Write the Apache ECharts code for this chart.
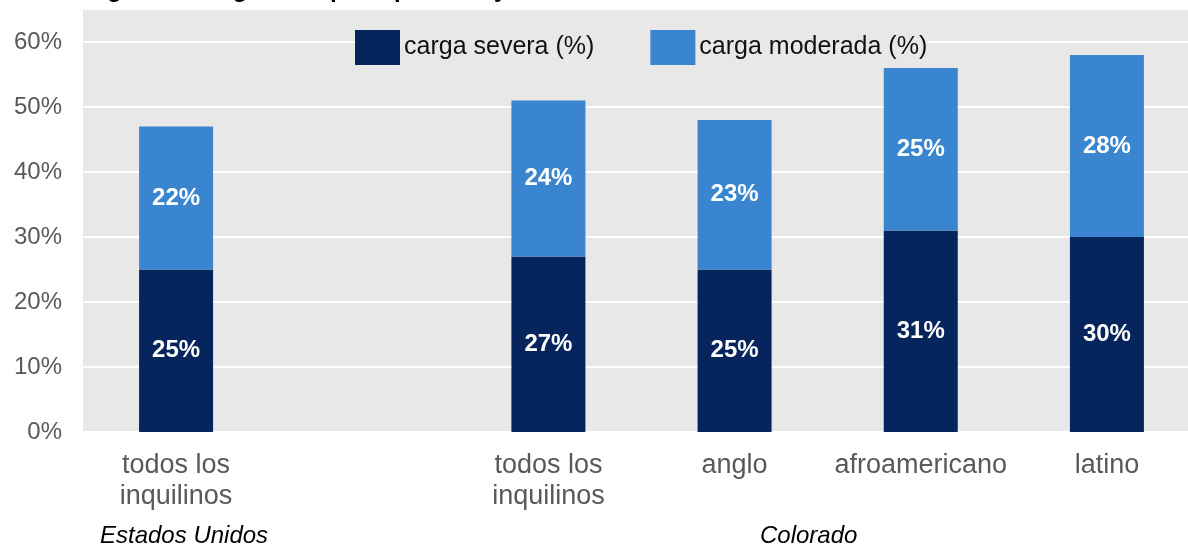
<!DOCTYPE html>
<html lang="es">
<head>
    <meta charset="UTF-8">
    <title>Carga de alquiler</title>
    <script src="https://cdn.jsdelivr.net/npm/echarts@6/dist/echarts.min.js"></script>
    <style>
        html, body { margin: 0; padding: 0; background: #fff; }
        #main { width: 1188px; height: 545px; }
    </style>
</head>
<body>
<div id="main"></div>
<script type="text/javascript">
    // categorias (la segunda queda vacia para separar EE.UU. de Colorado)
    var categorias = ['todos los\ninquilinos', '', 'todos los\ninquilinos', 'anglo', 'afroamericano', 'latino'];
    var cargaSevera = [25, null, 27, 25, 31, 30];
    var cargaModerada = [22, null, 24, 23, 25, 28];
    var yTicks = [0, 10, 20, 30, 40, 50, 60];

    var fuente = '"Liberation Sans", Arial, sans-serif';
    var grisFondo = '#e8e8e8';

    var myChart = echarts.init(document.getElementById('main'));
    myChart.setOption({
        animation: false,
        textStyle: {fontFamily: fuente},
        grid: {left: 83, width: 1117, top: 42, height: 390, containLabel: false, outerBoundsMode: 'none'},
        legend: {
            data: ['carga severa (%)', 'carga moderada (%)'],
            left: 355, top: 30,
            itemWidth: 45, itemHeight: 35, itemGap: 56,
            backgroundColor: grisFondo,
            padding: 0,
            textStyle: {color: '#111', fontSize: 25, fontFamily: fuente, padding: [0, 0, 0, -1]},
            icon: 'rect'
        },
        xAxis: {
            type: 'category',
            data: categorias,
            axisLine: {show: false},
            axisTick: {show: false},
            axisLabel: {color: '#595959', fontSize: 27, lineHeight: 31, margin: 18, interval: 0}
        },
        yAxis: {
            type: 'value',
            min: yTicks[0], max: yTicks[yTicks.length - 1], interval: 10,
            axisLine: {show: false},
            axisTick: {show: false},
            splitLine: {lineStyle: {color: '#ffffff', width: 2}},
            axisLabel: {color: '#595959', fontSize: 24, margin: 21, formatter: '{value}%'}
        },
        graphic: [
            {type: 'rect', z: -10, silent: true, shape: {x: 83, y: 10, width: 1105, height: 422}, style: {fill: grisFondo}},
            {type: 'text', left: 86, top: -22, silent: true,
                style: {text: 'Figura 1. Carga de alquiler por raza y etnia en Colorado', font: 'bold 24px ' + fuente, fill: '#000'}},
            {type: 'text', left: 100, top: 524, silent: true,
                style: {text: 'Estados Unidos', font: 'italic 24px ' + fuente, fill: '#000'}},
            {type: 'text', left: 760, top: 524, silent: true,
                style: {text: 'Colorado', font: 'italic 24px ' + fuente, fill: '#000'}}
        ],
        series: [
            {
                name: 'carga severa (%)', type: 'bar', stack: 'total', barWidth: 74,
                data: cargaSevera,
                itemStyle: {color: '#06255c'},
                label: {show: true, position: 'inside', color: '#fff', fontSize: 24, fontWeight: 'bold', formatter: '{c}%'}
            },
            {
                name: 'carga moderada (%)', type: 'bar', stack: 'total', barWidth: 74,
                data: cargaModerada,
                itemStyle: {color: '#3a85cf'},
                label: {show: true, position: 'inside', color: '#fff', fontSize: 24, fontWeight: 'bold', formatter: '{c}%'}
            }
        ]
    });
</script>
</body>
</html>
